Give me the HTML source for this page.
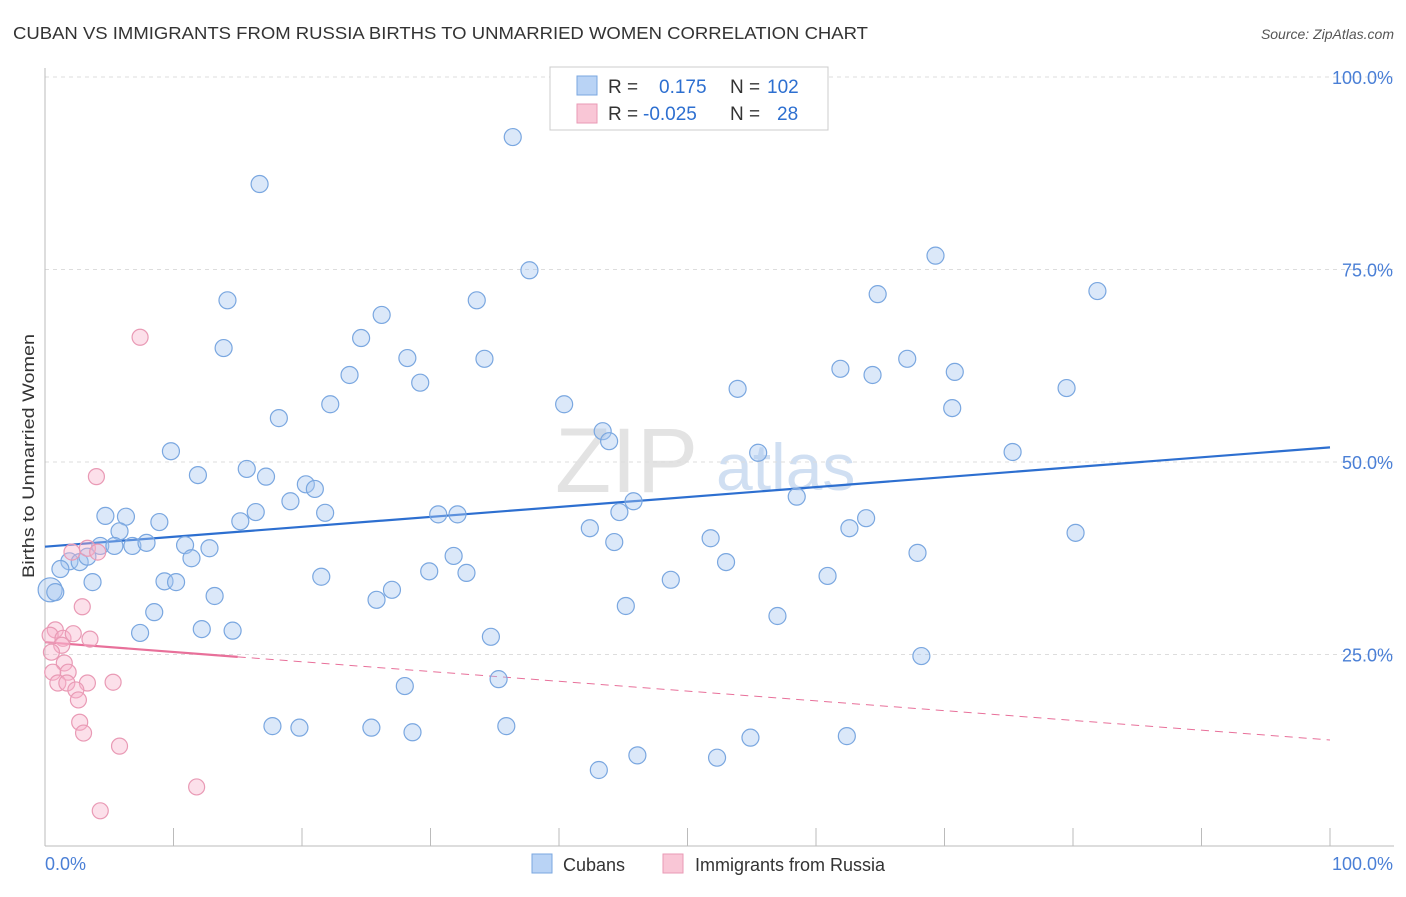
<!DOCTYPE html>
<html><head><meta charset="utf-8"><style>
body{margin:0;background:#fff;font-family:"Liberation Sans",sans-serif;}
svg text{font-family:"Liberation Sans",sans-serif;}
</style></head><body>
<svg id="chart" width="1406" height="892" viewBox="0 0 1406 892" xmlns="http://www.w3.org/2000/svg">
<text x="13" y="39" font-size="17.5" fill="#333" textLength="855" lengthAdjust="spacingAndGlyphs">CUBAN VS IMMIGRANTS FROM RUSSIA BIRTHS TO UNMARRIED WOMEN CORRELATION CHART</text>
<text x="1394" y="39" font-size="14" fill="#555" text-anchor="end" font-style="italic">Source: ZipAtlas.com</text>
<text transform="translate(34,456) rotate(-90)" font-size="17" fill="#333" text-anchor="middle" textLength="244" lengthAdjust="spacingAndGlyphs">Births to Unmarried Women</text>
<g>
<text x="555" y="492" font-size="92" fill="#ddd" font-family="Liberation Serif" opacity="0.8">ZIP</text>
<text x="716" y="490" font-size="66" fill="#c5d8f0" opacity="0.8">atlas</text>
</g>
<g id="grid"></g><g id="axes"></g><g id="trends"></g><g id="pts"></g>
<g>
<rect x="550" y="67" width="278" height="63" fill="#fff" stroke="#ccc"/>
<rect x="577" y="76" width="20" height="19" fill="#b9d3f5" stroke="#7aa7e0"/>
<rect x="577" y="104" width="20" height="19" fill="#f9c6d6" stroke="#e99ab5"/>
<text x="608" y="93" font-size="19" fill="#333">R =</text>
<text x="659" y="93" font-size="19" fill="#2d6fd0">0.175</text>
<text x="730" y="93" font-size="19" fill="#333">N =</text>
<text x="767" y="93" font-size="19" fill="#2d6fd0">102</text>
<text x="608" y="120" font-size="19" fill="#333">R =</text>
<text x="643" y="120" font-size="19" fill="#2d6fd0">-0.025</text>
<text x="730" y="120" font-size="19" fill="#333">N =</text>
<text x="777" y="120" font-size="19" fill="#2d6fd0">28</text>
</g>
<g>
<rect x="532" y="854" width="20" height="19" fill="#b9d3f5" stroke="#7aa7e0"/>
<text x="563" y="871" font-size="18" fill="#333">Cubans</text>
<rect x="663" y="854" width="20" height="19" fill="#f9c6d6" stroke="#e99ab5"/>
<text x="695" y="871" font-size="18" fill="#333">Immigrants from Russia</text>
</g>
<text x="45" y="870" font-size="18" fill="#4a7fd6">0.0%</text>
<text x="1393" y="870" font-size="18" fill="#4a7fd6" text-anchor="end">100.0%</text>
</svg>
<script>
const blueX=[36.4,16.7,37.7,69.3,81.9,64.8,14.2,33.6,26.2,24.6,13.9,28.2,34.2,67.1,61.9,64.4,70.8,23.7,29.2,53.9,79.5,22.2,40.4,70.6,18.2,43.4,43.9,9.8,55.5,75.3,15.7,11.9,17.2,20.3,21.0,19.1,45.8,58.5,16.4,4.7,6.3,15.2,8.9,21.8,30.6,32.1,44.7,63.9,62.6,5.8,42.4,80.2,51.8,44.3,4.3,5.4,6.8,7.9,10.9,12.8,11.4,31.8,67.9,53.0,1.9,2.7,3.3,1.2,3.7,9.3,10.2,21.5,29.9,32.8,48.7,60.9,0.4,0.8,27.0,13.2,25.8,45.2,8.5,57.0,7.4,12.2,14.6,34.7,68.2,28.0,35.3,17.7,19.8,25.4,28.6,35.9,54.9,62.4,46.1,52.3,43.1];
const blueY=[92.2,86.1,74.9,76.8,72.2,71.8,71.0,71.0,69.1,66.1,64.8,63.5,63.4,63.4,62.1,61.3,61.7,61.3,60.3,59.5,59.6,57.5,57.5,57.0,55.7,54.0,52.7,51.4,51.2,51.3,49.1,48.3,48.1,47.1,46.5,44.9,44.9,45.5,43.5,43.0,42.9,42.3,42.2,43.4,43.2,43.2,43.5,42.7,41.4,41.0,41.4,40.8,40.1,39.6,39.1,39.1,39.1,39.5,39.2,38.8,37.5,37.8,38.2,37.0,37.1,37.0,37.7,36.1,34.4,34.5,34.4,35.1,35.8,35.6,34.7,35.2,33.4,33.1,33.4,32.6,32.1,31.3,30.5,30.0,27.8,28.3,28.1,27.3,24.8,20.9,21.8,15.7,15.5,15.5,14.9,15.7,14.2,14.4,11.9,11.6,10.0];
const pinkX=[7.4,4.0,2.1,3.3,4.1,2.9,0.8,0.4,1.4,2.2,3.5,1.3,0.5,1.5,1.8,0.6,1.0,1.7,3.3,5.3,2.4,2.6,2.7,3.0,5.8,11.8,4.3];
const pinkY=[66.2,48.1,38.3,38.8,38.3,31.2,28.2,27.5,27.1,27.7,27.0,26.2,25.3,23.9,22.7,22.7,21.3,21.3,21.3,21.4,20.4,19.1,16.2,14.8,13.1,7.8,4.7];
const yTicks=[25,50,75,100];
const yTickLabels=["25.0%","50.0%","75.0%","100.0%"];
const xTicks=[0,10,20,30,40,50,60,70,80,90,100];
const blueTrend=[39.0,51.9];
const pinkTrend=[26.6,13.9];
const pinkSolidEnd=15;

const NS="http://www.w3.org/2000/svg";
const sx=v=>45+v*12.85, sy=v=>847-v*7.7;
function mk(tag,attrs,parent){const e=document.createElementNS(NS,tag);for(const k in attrs)e.setAttribute(k,attrs[k]);document.getElementById(parent).appendChild(e);return e;}
yTicks.forEach((t,i)=>{
 const l=mk('line',{x1:45,x2:1394,y1:sy(t),y2:sy(t),stroke:'#ddd','stroke-dasharray':'4,4'},'grid');
 
 
 const tx=mk('text',{x:1393,y:sy(t)+7,'font-size':18,fill:'#4a7fd6','text-anchor':'end'},'grid');
 tx.textContent=yTickLabels[i];
 
 
});
const ax=mk('line',{x1:45,x2:45,y1:68,y2:846,stroke:'#bbb'},'axes');


const bx=mk('line',{x1:45,x2:1394,y1:846,y2:846,stroke:'#bbb'},'axes');


xTicks.forEach(t=>{
 const l=mk('line',{x1:sx(t),x2:sx(t),y1:828,y2:846,stroke:'#bbb'},'axes');
 
 
});
blueX.forEach((x,i)=>{
 const c=mk('circle',{cx:sx(x),cy:sy(blueY[i]),r:(x<0.5?12:8.5),fill:'rgba(165,198,240,0.4)',stroke:'#7aa7e0','stroke-width':1.2},'pts');
 
 
});
pinkX.forEach((x,i)=>{
 const c=mk('circle',{cx:sx(x),cy:sy(pinkY[i]),r:8,fill:'rgba(248,178,202,0.4)',stroke:'#e99ab5','stroke-width':1.2},'pts');
 
 
});
const bt=mk('line',{x1:sx(0),y1:sy(blueTrend[0]),x2:sx(100),y2:sy(blueTrend[1]),stroke:'#2d6fd0','stroke-width':2.2},'trends');


const pAt=x=>pinkTrend[0]+(pinkTrend[1]-pinkTrend[0])*x/100;
const ps=mk('line',{x1:sx(0),y1:sy(pinkTrend[0]),x2:sx(pinkSolidEnd),y2:sy(pAt(pinkSolidEnd)),stroke:'#e8709a','stroke-width':2.2},'trends');


const pd=mk('line',{x1:sx(pinkSolidEnd),y1:sy(pAt(pinkSolidEnd)),x2:sx(100),y2:sy(pinkTrend[1]),stroke:'#e8709a','stroke-width':1,'stroke-dasharray':'8,6'},'trends');


</script>
</body></html>
